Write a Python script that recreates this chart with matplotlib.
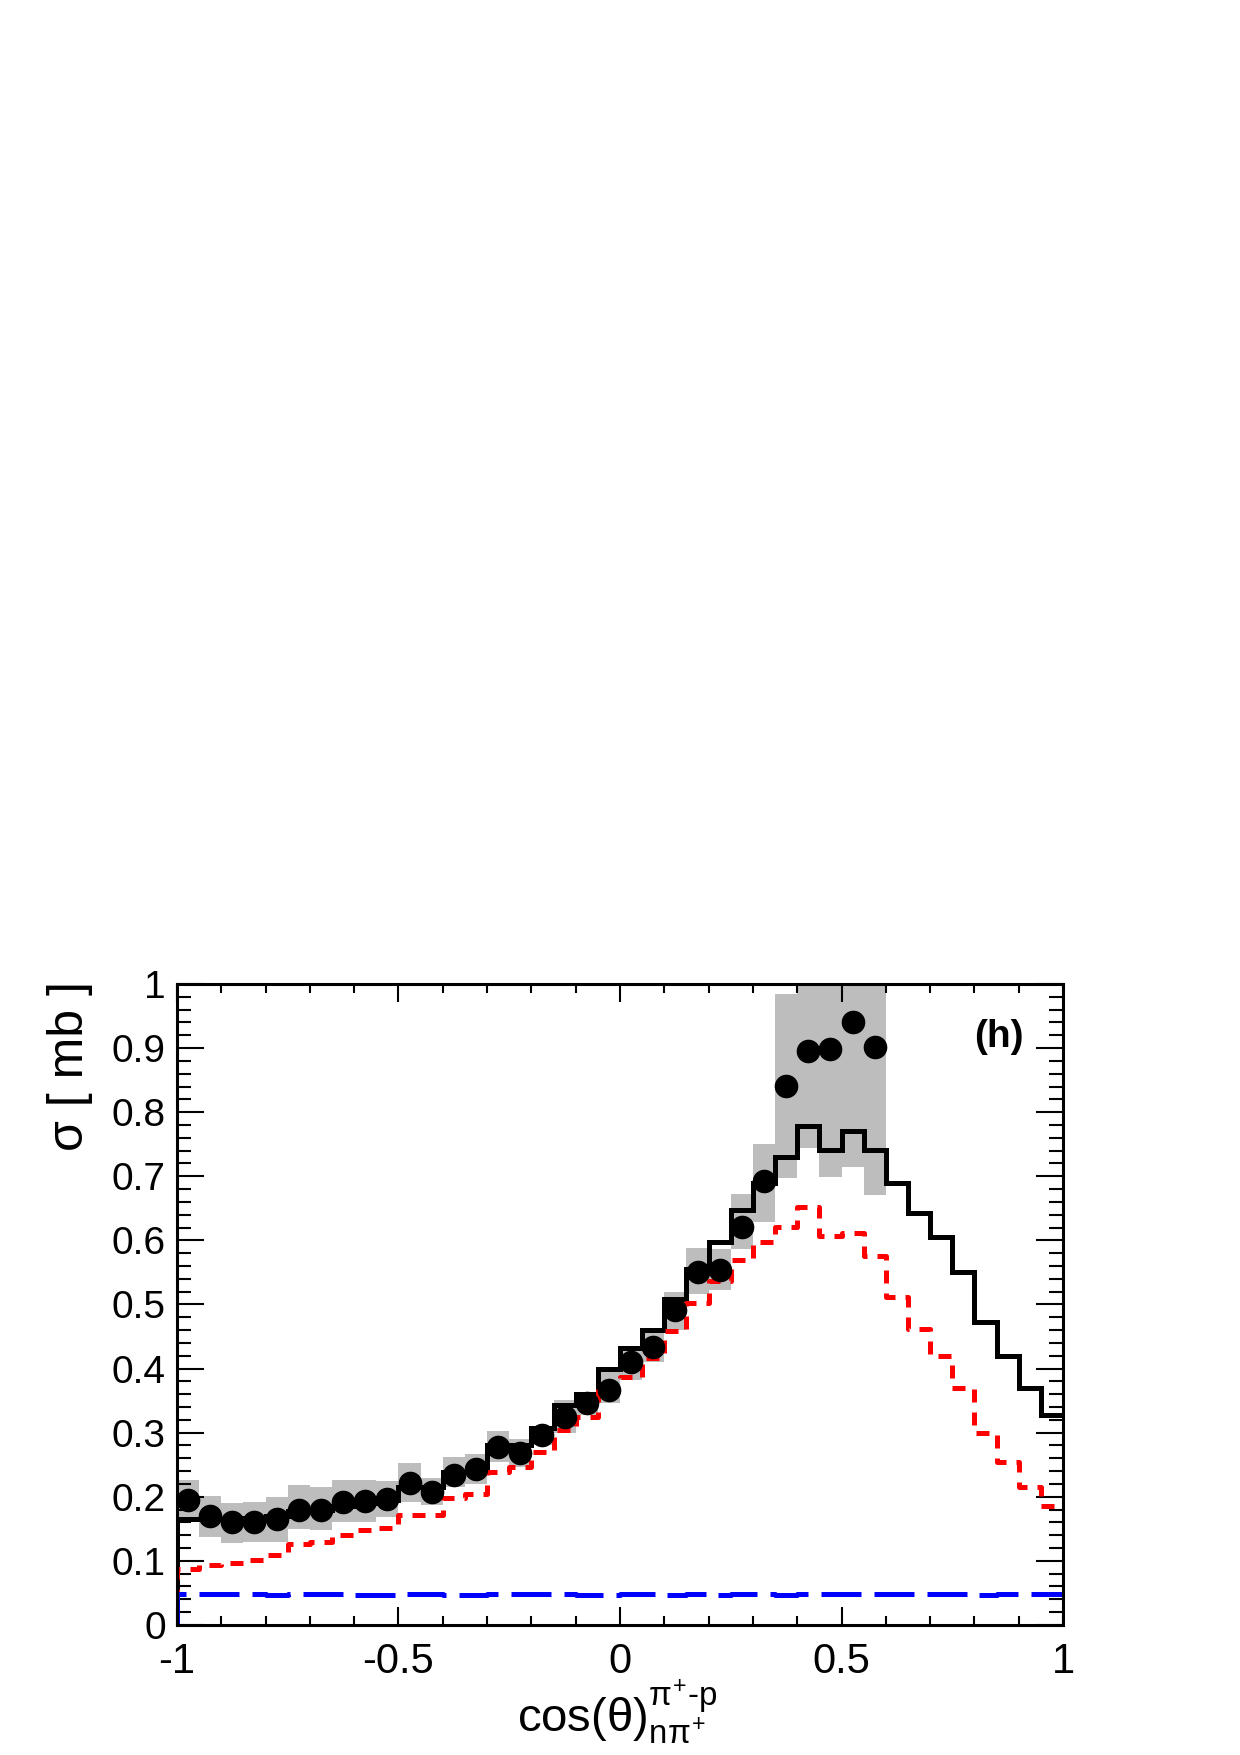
import numpy as np
import matplotlib
matplotlib.use('Agg')
import matplotlib.pyplot as plt
from matplotlib.ticker import MultipleLocator, FormatStrFormatter

plt.rcParams['font.family'] = ['Liberation Sans', 'DejaVu Sans']
plt.rcParams['mathtext.fontset'] = 'custom'
plt.rcParams['mathtext.rm'] = 'Liberation Sans'
plt.rcParams['mathtext.it'] = 'Liberation Sans'
plt.rcParams['mathtext.bf'] = 'Liberation Sans:bold'
plt.rcParams['axes.unicode_minus'] = False

# 40 bins of cos(theta) from -1 to 1
edges = np.linspace(-1, 1, 41)

# model histograms
total_model = [0.165, 0.165, 0.165, 0.167, 0.170, 0.178, 0.180, 0.185, 0.190, 0.195,
               0.216, 0.216, 0.239, 0.239, 0.280, 0.280, 0.307, 0.343, 0.361, 0.399,
               0.432, 0.460, 0.508, 0.556, 0.598, 0.647, 0.690, 0.730, 0.779, 0.741,
               0.771, 0.741, 0.690, 0.642, 0.606, 0.551, 0.472, 0.419, 0.369, 0.328]
red_model = [0.088, 0.094, 0.096, 0.101, 0.109, 0.126, 0.130, 0.141, 0.148, 0.151,
             0.172, 0.172, 0.198, 0.205, 0.238, 0.247, 0.270, 0.304, 0.325, 0.372,
             0.387, 0.416, 0.458, 0.502, 0.536, 0.569, 0.598, 0.621, 0.652, 0.607,
             0.611, 0.575, 0.511, 0.461, 0.420, 0.369, 0.300, 0.255, 0.216, 0.186]
blue_model = [0.049, 0.048, 0.048, 0.048, 0.047, 0.048, 0.048, 0.048, 0.047, 0.047,
              0.048, 0.048, 0.047, 0.047, 0.048, 0.048, 0.049, 0.048, 0.047, 0.047,
              0.048, 0.048, 0.047, 0.048, 0.047, 0.048, 0.048, 0.047, 0.048, 0.048,
              0.049, 0.049, 0.048, 0.048, 0.048, 0.048, 0.047, 0.048, 0.048, 0.048]

# data points (first 32 bins) and systematic band
data_vals = [0.195, 0.170, 0.160, 0.161, 0.166, 0.180, 0.180, 0.192, 0.194, 0.196,
             0.222, 0.208, 0.234, 0.244, 0.277, 0.268, 0.296, 0.325, 0.346, 0.367,
             0.410, 0.434, 0.491, 0.551, 0.554, 0.621, 0.692, 0.841, 0.896, 0.898,
             0.941, 0.901]
band_lo = [0.169, 0.138, 0.128, 0.130, 0.130, 0.150, 0.148, 0.161, 0.161, 0.169,
           0.192, 0.187, 0.216, 0.220, 0.255, 0.247, 0.281, 0.299, 0.328, 0.346,
           0.382, 0.411, 0.460, 0.517, 0.523, 0.586, 0.629, 0.697, 0.744, 0.699,
           0.715, 0.671]
band_hi = [0.226, 0.201, 0.191, 0.192, 0.200, 0.218, 0.215, 0.226, 0.226, 0.224,
           0.252, 0.229, 0.262, 0.267, 0.302, 0.290, 0.310, 0.351, 0.364, 0.395,
           0.432, 0.460, 0.520, 0.588, 0.586, 0.673, 0.751, 0.984, 1.05, 1.05,
           1.05, 1.05]

centers = 0.5 * (edges[:-1] + edges[1:])
n_data = len(data_vals)
lo = np.array(band_lo)
hi = np.array(band_hi)

fig = plt.figure(figsize=(12.4, 17.55), dpi=100)
ax = fig.add_axes([0.1427, 0.0741, 0.7146, 0.3652])

# systematic band
ax.bar(centers[:n_data], hi - lo, bottom=lo, width=0.05, color='#bdbdbd',
       linewidth=0, zorder=1)


def hist_line(vals, **kw):
    xs = np.r_[edges[0], edges]
    ys = np.r_[0, vals, vals[-1]]
    ax.step(xs, ys, where='post', solid_joinstyle='miter', **kw)


hist_line(total_model, color='black', lw=3.6, zorder=3)
hist_line(red_model, color='#ff0000', lw=3.6, ls=(0, (2.6, 2.0)), zorder=4)
hist_line(blue_model, color='#0000ff', lw=3.6, ls=(0, (8.0, 2.6)), zorder=5)

ax.plot(centers[:n_data], data_vals, 'o', color='black', ms=16, zorder=6)

ax.set_xlim(-1, 1)
ax.set_ylim(0, 1)

ax.xaxis.set_major_locator(MultipleLocator(0.5))
ax.xaxis.set_minor_locator(MultipleLocator(0.1))
ax.yaxis.set_major_locator(MultipleLocator(0.1))
ax.yaxis.set_minor_locator(MultipleLocator(0.02))
ax.xaxis.set_major_formatter(FormatStrFormatter('%g'))
ax.yaxis.set_major_formatter(FormatStrFormatter('%g'))

ax.tick_params(which='both', direction='in', top=True, right=True, width=1.5)
ax.tick_params(axis='x', which='major', length=13, labelsize=30, pad=12)
ax.tick_params(axis='x', which='minor', length=6.5)
ax.tick_params(axis='y', which='major', length=19.5, labelsize=28, pad=8)
ax.tick_params(axis='y', which='minor', length=10)
for sp in ax.spines.values():
    sp.set_linewidth(2.2)
    sp.set_zorder(10)

fig.text(70 / 1240, 1 - 981 / 1755, 'σ [ mb ]', rotation=90, ha='center',
         va='top', fontsize=36)
fig.text(617 / 1240, 1 - 1732 / 1755,
         r'$\mathrm{cos(\theta)}^{\pi^{+}\text{-p}}_{\mathrm{n}\pi^{+}}$',
         ha='center', va='baseline', fontsize=34)
fig.text(999 / 1240, 1 - 1037 / 1755, '(h)', ha='center', va='center',
         fontsize=28, fontweight='bold')

fig.savefig('out.png', dpi=100)
